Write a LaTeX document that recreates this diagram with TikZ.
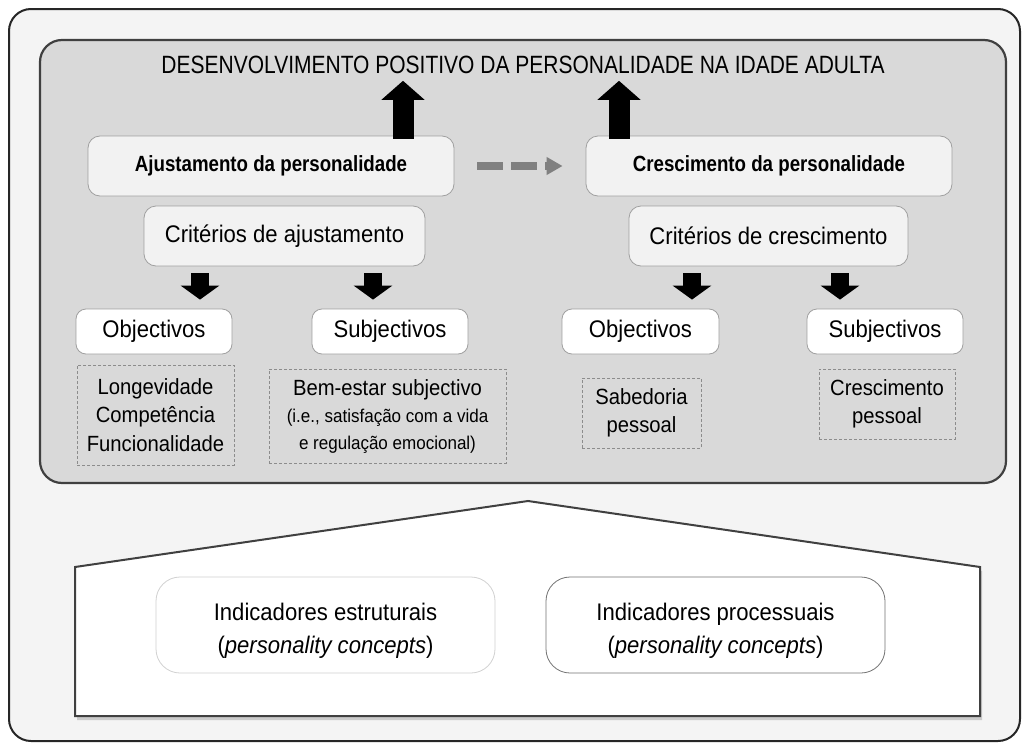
\documentclass[tikz,border=0pt]{standalone}
\usepackage{fontspec}
\setmainfont{Liberation Sans}[FakeStretch=0.92]
\newfontfamily\titlefont{Liberation Sans}[FakeStretch=0.84]
\newfontfamily\boldfam{Liberation Sans}[FakeStretch=0.85]
\usetikzlibrary{arrows.meta,shadows,calc}
\definecolor{outerfill}{HTML}{F4F4F4}
\definecolor{panelfill}{HTML}{D9D9D9}
\definecolor{paneldraw}{HTML}{404040}
\definecolor{boxfill}{HTML}{F2F2F2}
\definecolor{boxdraw}{HTML}{A0A0A0}
\definecolor{dashdraw}{HTML}{8C8C8C}
\definecolor{arrgray}{HTML}{808080}
\tikzset{
  outerbox/.style={draw=black!85, line width=2pt, rounded corners=22pt, fill=outerfill},
  panel/.style={draw=paneldraw, line width=2.2pt, rounded corners=22pt, fill=panelfill},
  bigbox/.style={draw=boxdraw, line width=0.8pt, rounded corners=12pt, fill=boxfill, inner sep=0pt, align=center},
  whitebox/.style={draw=boxdraw, line width=0.8pt, rounded corners=10pt, fill=white, inner sep=0pt, align=center},
  dashbox/.style={draw=dashdraw, dashed, dash pattern=on 3pt off 2pt, line width=0.8pt, inner sep=0pt, align=center},
  indbox/.style={draw=boxdraw, line width=0.8pt, rounded corners=24pt, fill=white, inner sep=0pt, align=center},
  uparr/.style={line width=21pt, -{Triangle[width=42pt,length=19pt]}, black},
  downarr/.style={line width=18pt, -{Triangle[width=38pt,length=14pt]}, black},
  grayarr/.style={line width=8pt, arrgray, dash pattern=on 26pt off 8pt, -{Triangle[width=17pt,length=16pt]}},
  house/.style={draw=paneldraw, line width=2pt, fill=white, drop shadow={shadow xshift=2pt, shadow yshift=-4pt, opacity=0.35}},
  boldtxt/.style={font={\boldfam\bfseries\fontsize{22}{26}\selectfont}},
  bigtxt/.style={font={\fontsize{24}{28}\selectfont}},
  listtxt/.style={font={\fontsize{22}{28.5}\selectfont}},
}
\begin{document}
\begin{tikzpicture}[x=1pt,y=-1pt]
\useasboundingbox (0,0) rectangle (1026,744);
\draw[outerbox] (9,9) rectangle (1020,741);
\draw[panel] (40,40) rectangle (1006,483);

\node[anchor=base, font={\titlefont\fontsize{25}{28}\selectfont}] (title) at (523,73) {DESENVOLVIMENTO POSITIVO DA PERSONALIDADE NA IDADE ADULTA};

\node[bigbox, boldtxt, minimum width=366pt, minimum height=60pt] (aj) at (271,166) {Ajustamento da personalidade};
\node[bigbox, boldtxt, minimum width=366pt, minimum height=60pt] (cr) at (769,166) {Crescimento da personalidade};
\node[bigbox, bigtxt, minimum width=281pt, minimum height=60pt] (caj) at (284.5,236) {Critérios de ajustamento};
\node[bigbox, bigtxt, minimum width=279pt, minimum height=60pt] (ccr) at (768.5,236) {Critérios de crescimento};

\node[whitebox, bigtxt, minimum width=156pt, minimum height=45pt] (objL) at (154,331.5) {Objectivos};
\node[whitebox, bigtxt, minimum width=156pt, minimum height=45pt] (subL) at (390,331.5) {Subjectivos};
\node[whitebox, bigtxt, minimum width=157pt, minimum height=45pt] (objR) at (640.5,331.5) {Objectivos};
\node[whitebox, bigtxt, minimum width=156pt, minimum height=45pt] (subR) at (885,331.5) {Subjectivos};

\node[dashbox, listtxt, minimum width=157pt, minimum height=100pt] (longv) at (155.5,415) {Longevidade\\Competência\\Funcionalidade};
\node[dashbox, font={\fontsize{18.5}{27}\selectfont}, minimum width=237pt, minimum height=94pt] (bem) at (387.5,416) {{\fontsize{22}{27}\selectfont Bem-estar subjectivo}\\(i.e., satisfação com a vida\\e regulação emocional)};
\node[dashbox, listtxt, minimum width=119pt, minimum height=70pt] (sab) at (641.5,413) {Sabedoria\\pessoal};
\node[dashbox, listtxt, minimum width=136pt, minimum height=70pt] (crp) at (887,404) {Crescimento\\pessoal};

% arrows up
\draw[uparr] ([yshift=-3pt]aj.north -| 403,0) -- ([yshift=-4pt]title.south -| 403,0);
\draw[uparr] ([yshift=-3pt]cr.north -| 619,0) -- ([yshift=-4pt]title.south -| 619,0);
% dashed arrow
\draw[grayarr] ([xshift=23pt]aj.east) -- ([xshift=-23pt]cr.west);
% arrows down
\draw[downarr] ([yshift=-7pt]caj.south -| 200,0) -- ([yshift=9pt]objL.north -| 200,0);
\draw[downarr] ([yshift=-7pt]caj.south -| 373,0) -- ([yshift=9pt]subL.north -| 373,0);
\draw[downarr] ([yshift=-7pt]ccr.south -| 692,0) -- ([yshift=9pt]objR.north -| 692,0);
\draw[downarr] ([yshift=-7pt]ccr.south -| 840,0) -- ([yshift=9pt]subR.north -| 840,0);

% house
\draw[house] (75,567) -- (528,501) -- (980,567) -- (980,716) -- (75,716) -- cycle;
\node[indbox, font={\fontsize{24}{33}\selectfont}, text height=62pt, draw=black!18, minimum width=339pt, minimum height=96pt] (indE) at (325.5,625) {Indicadores estruturais\\(\textit{personality concepts})};
\node[indbox, font={\fontsize{24}{33}\selectfont}, text height=62pt, draw=black!55, minimum width=339pt, minimum height=96pt] (indP) at (715.5,625) {Indicadores processuais\\(\textit{personality concepts})};
\end{tikzpicture}
\end{document}
